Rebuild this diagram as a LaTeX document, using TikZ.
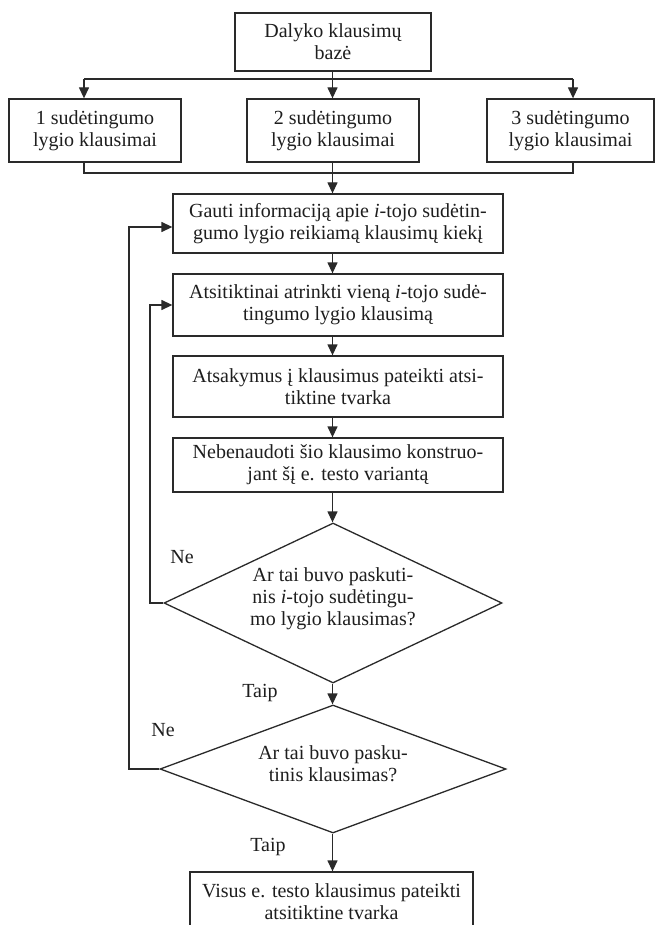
\documentclass[tikz,border=0pt]{standalone}
\usepackage{fontspec}
\setmainfont{Liberation Serif}
\usetikzlibrary{arrows.meta,shapes.geometric}

\definecolor{linec}{HTML}{2A2A2A}
\definecolor{textc}{HTML}{1E1E1E}

\begin{document}
\begin{tikzpicture}[x=1pt,y=-1pt,
  txt/.style={font=\fontsize{20}{22}\selectfont, text=textc, align=center, inner sep=0pt},
  box/.style={txt, draw=linec, line width=1.3pt, rectangle},
  decision/.style={diamond, draw=linec, line width=1.3pt, inner sep=0pt},
  conn/.style={draw=linec, line width=1.3pt},
  arr/.style={conn, -{Triangle[length=11pt,width=10pt]}}]

\useasboundingbox (0,0) rectangle (655,925);
\clip (0,0) rectangle (655,925);
\fill[white] (0,0) rectangle (655,925);

% question base and the three difficulty levels
\node[box, minimum width=196, minimum height=58] (top) at (333,42) {Dalyko klausimų\\bazė};
\node[box, minimum width=172, minimum height=63] (b1) at (95,130.5) {1 sudėtingumo\\lygio klausimai};
\node[box, minimum width=172, minimum height=63] (b2) at (333,130.5) {2 sudėtingumo\\lygio klausimai};
\node[box, minimum width=167, minimum height=63] (b3) at (570.5,130.5) {3 sudėtingumo\\lygio klausimai};

% main processing steps
\node[box, minimum width=330, minimum height=59] (g) at (338,223.5)
  {Gauti informaciją apie \textit{i}-tojo sudėtin-\\gumo lygio reikiamą klausimų kiekį};
\node[box, minimum width=330, minimum height=62] (a) at (338,305)
  {Atsitiktinai atrinkti vieną \textit{i}-tojo sudė-\\tingumo lygio klausimą};
\node[box, minimum width=330, minimum height=61] (s) at (338,386.5)
  {Atsakymus į klausimus pateikti atsi-\\tiktine tvarka};
\node[box, minimum width=330, minimum height=54] (n) at (338,465)
  {Nebenaudoti šio klausimo konstruo-\\jant šį e. testo variantą};

% decisions
\node[decision, minimum width=338, minimum height=160] (d1) at (333,603) {};
\node[txt] (d1t) at (333,599) {Ar tai buvo paskuti-\\nis \textit{i}-tojo sudėtingu-\\mo lygio klausimas?};
\node[decision, minimum width=346, minimum height=128] (d2) at (333,769) {};
\node[txt] (d2t) at (333,764) {Ar tai buvo pasku-\\tinis klausimas?};

% final step
\node[box, minimum width=283, minimum height=60] (f) at (331.5,902)
  {Visus e. testo klausimus pateikti\\atsitiktine tvarka};

% branch labels
\node[txt] (ne1) at (182,557) {Ne};
\node[txt] (t1) at (260,693) {Taip};
\node[txt] (ne2) at (163,730) {Ne};
\node[txt] (t2) at (268,847) {Taip};

% helper coordinates for the routing
\coordinate (axis) at (332.5,0);
\coordinate (sL) at (84,79);
\coordinate (sM) at (332.5,79);
\coordinate (sR) at (573,79);
\coordinate (gL) at (84,173);
\coordinate (gR) at (573,173);
\coordinate (inner) at (150,0);
\coordinate (outer) at (129,0);
\coordinate (gin) at ([yshift=-3.5pt]g.west);

% split into the three levels
\draw[conn] (top.south -| axis) -- (sM);
\draw[conn] (sL) -- (sR);
\draw[arr] (sL) -- (sL |- b1.north);
\draw[arr] (sM) -- (b2.north -| axis);
\draw[arr] (sR) -- (sR |- b3.north);

% merge back
\draw[conn] (b1.south -| gL) -- (gL) -- (gR) -- (b3.south -| gR);
\draw[arr] (b2.south -| axis) -- (g.north -| axis);

% main flow
\draw[arr] (g.south -| axis) -- (a.north -| axis);
\draw[arr] (a.south -| axis) -- (s.north -| axis);
\draw[arr] (s.south -| axis) -- (n.north -| axis);
\draw[arr] (n.south -| axis) -- (d1.north -| axis);
\draw[arr] (d1.south -| axis) -- (d2.north -| axis);
\draw[arr] (d2.south -| axis) -- (f.north -| axis);

% loops back
\draw[arr] (d1.west) -- (d1.west -| inner) -- (inner |- a.west) -- (a.west);
\draw[arr] (d2.west) -- (d2.west -| outer) -- (outer |- gin) -- (gin);

\end{tikzpicture}
\end{document}
